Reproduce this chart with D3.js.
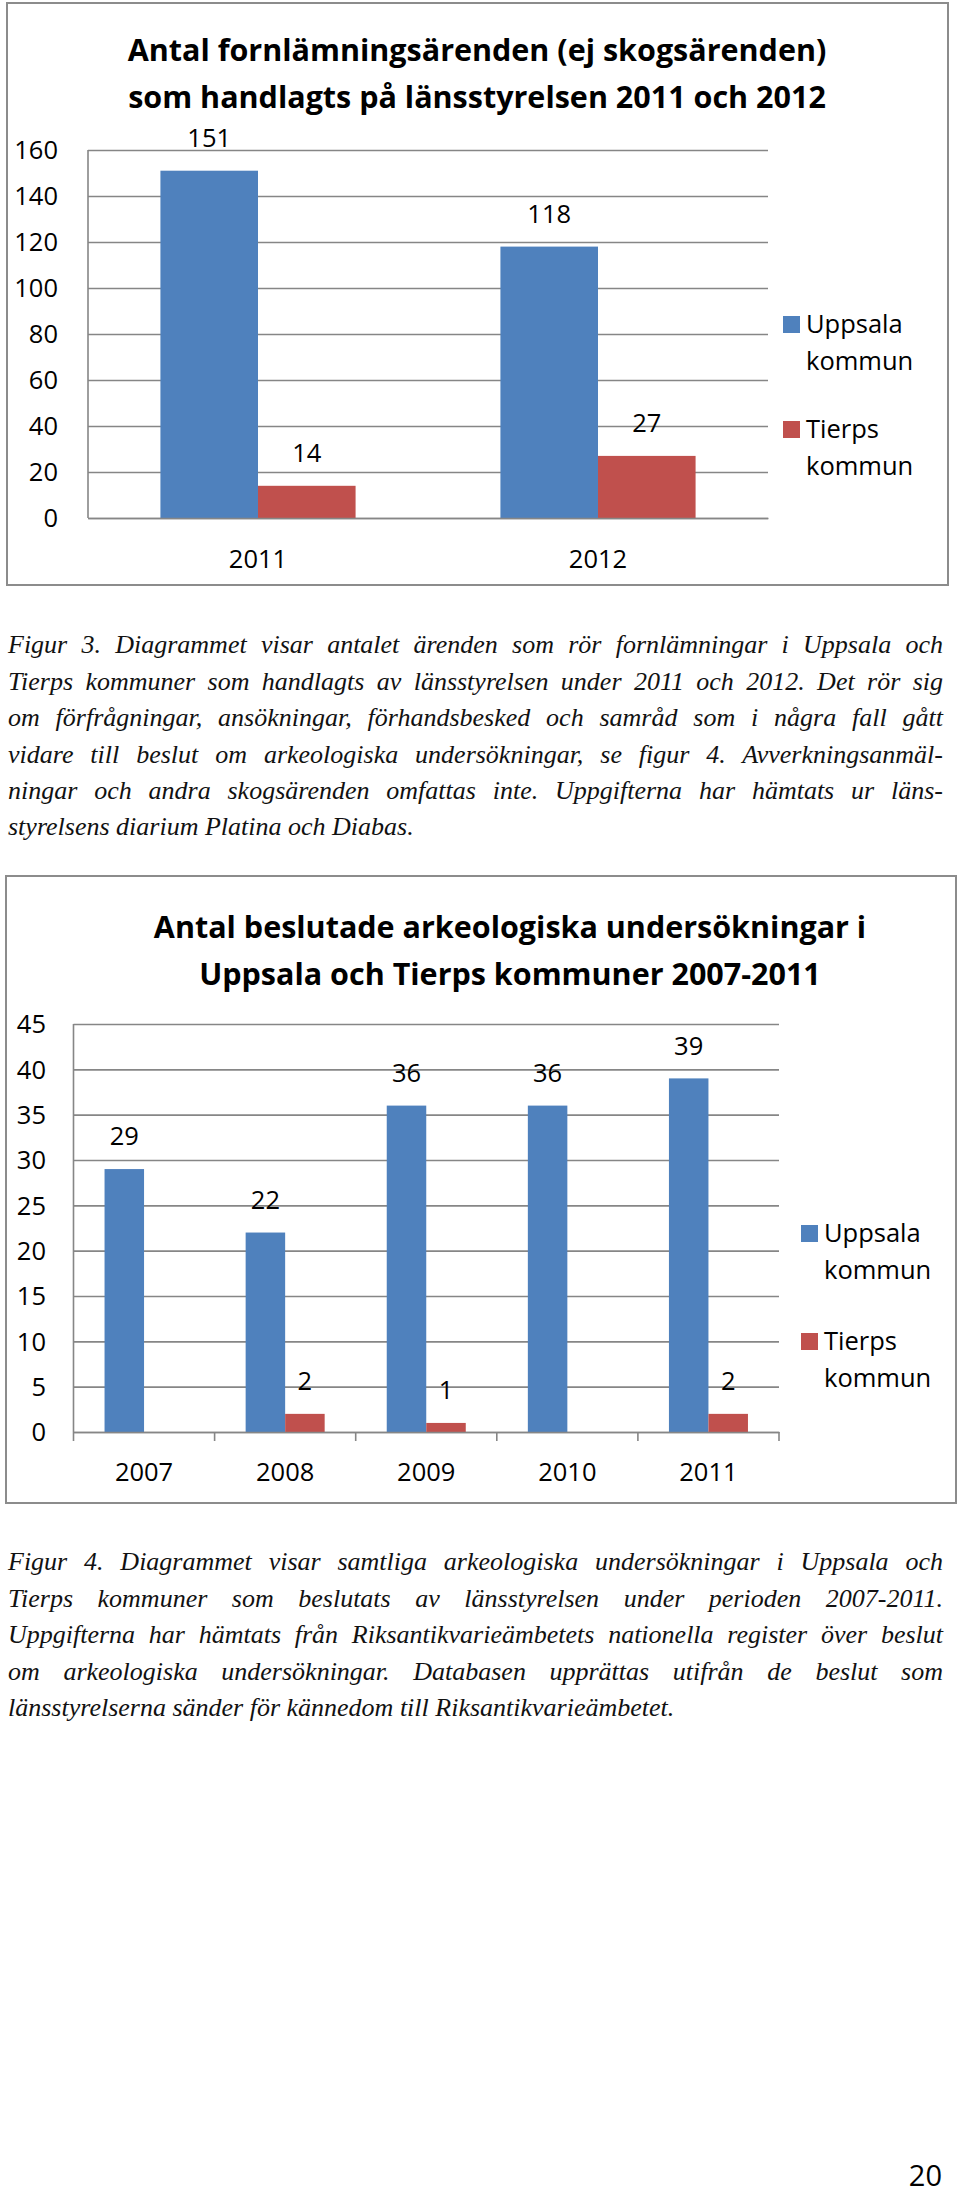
<!DOCTYPE html>
<html>
<head>
<meta charset="utf-8">
<script src="https://cdn.jsdelivr.net/npm/d3@7"></script>
<style>
  html, body { margin: 0; padding: 0; background: #fff; }
  svg { display: block; }
</style>
</head>
<body>
<div id="page"></div>
<script>
// figur 3
const years3 = ["2011", "2012"];
const uppsala3 = [151, 118];
const tierps3 = [14, 27];
const ticks3 = [0, 20, 40, 60, 80, 100, 120, 140, 160];

// figur 4 (null = no bar)
const years4 = ["2007", "2008", "2009", "2010", "2011"];
const uppsala4 = [29, 22, 36, 36, 39];
const tierps4 = [null, 2, 1, null, 2];
const ticks4 = [0, 5, 10, 15, 20, 25, 30, 35, 40, 45];

const seriesNames = ["Uppsala", "Tierps"];
const colors = ["#4f81bd", "#c0504d"];

const caption3 = [
  "Figur 3. Diagrammet visar antalet ärenden som rör fornlämningar i Uppsala och",
  "Tierps kommuner som handlagts av länsstyrelsen under 2011 och 2012. Det rör sig",
  "om förfrågningar, ansökningar, förhandsbesked och samråd som i några fall gått",
  "vidare till beslut om arkeologiska undersökningar, se figur 4. Avverkningsanmäl-",
  "ningar och andra skogsärenden omfattas inte. Uppgifterna har hämtats ur läns-",
  "styrelsens diarium Platina och Diabas."
];
const caption4 = [
  "Figur 4. Diagrammet visar samtliga arkeologiska undersökningar i Uppsala och",
  "Tierps kommuner som beslutats av länsstyrelsen under perioden 2007-2011.",
  "Uppgifterna har hämtats från Riksantikvarieämbetets nationella register över beslut",
  "om arkeologiska undersökningar. Databasen upprättas utifrån de beslut som",
  "länsstyrelserna sänder för kännedom till Riksantikvarieämbetet."
];

const W = 960, H = 2195;
const sans = "'Open Sans', sans-serif";
const serif = "'Liberation Serif', 'Times New Roman', serif";
const grid = "#868686";

const svg = d3.select("#page").append("svg")
  .attr("width", W).attr("height", H)
  .attr("viewBox", `0 0 ${W} ${H}`);

svg.append("rect").attr("width", W).attr("height", H).attr("fill", "#fff");

function barChart(opt) {
  const g = svg.append("g");

  g.append("rect")
    .attr("x", opt.frame[0]).attr("y", opt.frame[1])
    .attr("width", opt.frame[2]).attr("height", opt.frame[3])
    .attr("fill", "#fff").attr("stroke", "#8c8c8c").attr("stroke-width", 2);

  g.selectAll("text.title")
    .data(opt.title)
    .join("text")
    .attr("class", "title")
    .attr("x", opt.titleX)
    .attr("y", (d, i) => opt.titleY[i])
    .attr("dy", "0.36em")
    .attr("text-anchor", "middle")
    .attr("font-family", sans)
    .attr("font-weight", 700)
    .attr("font-size", opt.titleSize)
    .text(d => d);

  const x = d3.scaleBand()
    .domain(opt.years)
    .range([opt.x0, opt.x1])
    .paddingInner(opt.pad)
    .paddingOuter(opt.pad / 2);
  const xs = d3.scaleBand()
    .domain(seriesNames)
    .range([0, x.bandwidth()]);
  const y = d3.scaleLinear()
    .domain([0, opt.ticks[opt.ticks.length - 1]])
    .range([opt.y0, opt.y1]);

  // gridlines
  g.append("g")
    .attr("transform", `translate(${opt.x0},0)`)
    .call(d3.axisLeft(y).tickValues(opt.ticks).tickSize(-(opt.x1 - opt.x0)).tickFormat(""))
    .call(a => a.select(".domain").remove())
    .call(a => a.selectAll("line").attr("stroke", grid).attr("stroke-width", 1.6));

  // tick labels
  g.selectAll("text.ytick")
    .data(opt.ticks)
    .join("text")
    .attr("class", "ytick")
    .attr("x", opt.labelRight)
    .attr("y", d => y(d))
    .attr("dy", "0.36em")
    .attr("text-anchor", "end")
    .attr("font-family", sans)
    .attr("font-size", opt.fs)
    .text(d => d);

  const rows = opt.years.map((yr, i) => ({
    year: yr,
    vals: [opt.a[i], opt.b[i]]
  }));

  const groups = g.selectAll("g.cat")
    .data(rows)
    .join("g")
    .attr("class", "cat")
    .attr("transform", d => `translate(${x(d.year)},0)`);

  const cells = groups.selectAll("g.bar")
    .data(d => d.vals.map((v, k) => ({ v, k })).filter(e => e.v != null))
    .join("g")
    .attr("class", "bar");

  cells.append("rect")
    .attr("x", d => xs(seriesNames[d.k]))
    .attr("y", d => y(d.v))
    .attr("width", xs.bandwidth())
    .attr("height", d => y(0) - y(d.v))
    .attr("fill", d => colors[d.k]);

  cells.append("text")
    .attr("x", d => xs(seriesNames[d.k]) + xs.bandwidth() / 2)
    .attr("y", d => y(d.v) - opt.labelGap)
    .attr("dy", "0.36em")
    .attr("text-anchor", "middle")
    .attr("font-family", sans)
    .attr("font-size", opt.fs)
    .text(d => d.v);

  // axes
  g.append("line")
    .attr("x1", opt.x0).attr("x2", opt.x0)
    .attr("y1", opt.y0).attr("y2", opt.y1)
    .attr("stroke", grid).attr("stroke-width", 1.6);

  const xa = g.append("g")
    .attr("transform", `translate(0,${opt.y0})`)
    .call(d3.axisBottom(x).tickSize(0).tickFormat(""));
  xa.select(".domain").attr("stroke", grid).attr("stroke-width", 1.6);
  xa.selectAll(".tick").remove();

  if (opt.catTicks) {
    const edges = opt.years.map(yr => x(yr) - x.step() * x.paddingInner() / 2)
      .concat([opt.x1]);
    g.selectAll("line.ctick")
      .data(edges)
      .join("line")
      .attr("class", "ctick")
      .attr("x1", d => d).attr("x2", d => d)
      .attr("y1", opt.y0).attr("y2", opt.y0 + 9)
      .attr("stroke", grid).attr("stroke-width", 1.6);
  }

  g.selectAll("text.xlab")
    .data(opt.years)
    .join("text")
    .attr("class", "xlab")
    .attr("x", d => x(d) + x.bandwidth() / 2)
    .attr("y", opt.yearY)
    .attr("dy", "0.36em")
    .attr("text-anchor", "middle")
    .attr("font-family", sans)
    .attr("font-size", opt.fs)
    .text(d => d);

  // legend
  const leg = g.selectAll("g.leg")
    .data(seriesNames)
    .join("g")
    .attr("class", "leg")
    .attr("transform", (d, i) => `translate(${opt.legX},${opt.legY[i]})`);
  leg.append("rect")
    .attr("x", 0).attr("y", -8)
    .attr("width", 17).attr("height", 17)
    .attr("fill", (d, i) => colors[i]);
  leg.append("text")
    .attr("x", 23).attr("y", 0).attr("dy", "0.36em")
    .attr("font-family", sans).attr("font-size", opt.fs)
    .text(d => d);
  leg.append("text")
    .attr("x", 23).attr("y", opt.legLine).attr("dy", "0.36em")
    .attr("font-family", sans).attr("font-size", opt.fs)
    .text("kommun");
}

function caption(lines, x0, x1, yFirst, step) {
  const g = svg.append("g");
  lines.forEach((line, i) => {
    const t = g.append("text")
      .attr("x", x0)
      .attr("y", yFirst + i * step)
      .attr("dy", "0.32em")
      .attr("font-family", serif)
      .attr("font-style", "italic")
      .attr("font-size", 26)
      .attr("fill", "#111")
      .text(line);
    const natural = t.node().getComputedTextLength();
    const target = x1 - x0;
    const spaces = (line.match(/ /g) || []).length;
    if (natural > target) {
      t.attr("textLength", target).attr("lengthAdjust", "spacingAndGlyphs");
    } else if (i < lines.length - 1 && spaces > 0) {
      t.attr("word-spacing", (target - natural) / spaces);
    }
  });
}

barChart({
  frame: [7, 3, 941, 582],
  title: ["Antal fornlämningsärenden (ej skogsärenden)",
          "som handlagts på länsstyrelsen 2011 och 2012"],
  titleX: 477, titleY: [50, 97], titleSize: 30.5,
  years: years3, a: uppsala3, b: tierps3, ticks: ticks3,
  x0: 88, x1: 768, y0: 518, y1: 150, pad: 0.426,
  labelRight: 58, labelGap: 33, fs: 25.5, yearY: 559,
  catTicks: false,
  legX: 783, legY: [324, 429], legLine: 37
});

caption(caption3, 8, 943, 645, 36.4);

barChart({
  frame: [6, 876, 950, 627],
  title: ["Antal beslutade arkeologiska undersökningar i",
          "Uppsala och Tierps kommuner 2007-2011"],
  titleX: 510, titleY: [927, 974], titleSize: 30.5,
  years: years4, a: uppsala4, b: tierps4, ticks: ticks4,
  x0: 73.5, x1: 779, y0: 1432, y1: 1024, pad: 0.44,
  labelRight: 46, labelGap: 33, fs: 25.5, yearY: 1472,
  catTicks: true,
  legX: 801, legY: [1233, 1341], legLine: 37
});

caption(caption4, 8, 943, 1562, 36.4);

svg.append("text")
  .attr("x", 942).attr("y", 2186)
  .attr("text-anchor", "end")
  .attr("font-family", sans)
  .attr("font-size", 29)
  .text("20");
</script>
</body>
</html>
